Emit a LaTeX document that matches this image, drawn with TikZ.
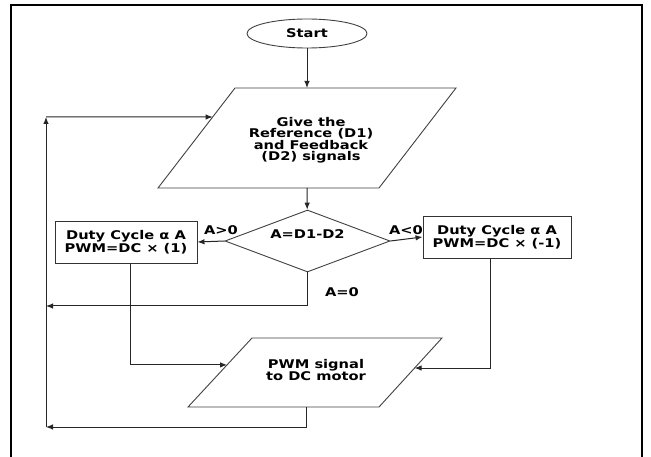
\documentclass[tikz,border=0pt]{standalone}
\usepackage{fontspec}
\newfontfamily\flowfont[FakeStretch=1.22]{DejaVu Sans}
\usetikzlibrary{shapes.geometric,arrows.meta,calc}

\begin{document}
\begin{tikzpicture}[x=1pt, y=-1pt, >={Latex[length=7pt,width=5.5pt]},
    every node/.style={font=\flowfont\bfseries\fontsize{12}{11.5}\selectfont, align=center},
    line/.style={draw=black!85, line width=1pt},
    terminal/.style={ellipse, draw=black!75, line width=0.9pt, minimum width=120pt, minimum height=29pt, inner sep=0pt},
    process/.style={rectangle, draw=black!80, line width=0.9pt, minimum height=42pt, inner sep=0pt},
    decision/.style={diamond, draw=black!75, line width=0.9pt, minimum width=165pt, minimum height=62pt, inner sep=0pt, aspect=2.66},
    iobox/.style={draw=black!75, line width=0.9pt}]
    \useasboundingbox (0,0) rectangle (651,457);
    % 外框
    \draw[line width=2pt] (11,457) -- (11,5) -- (642,5) -- (642,457);

    % 开始
    \node[terminal] (start) at (307,33.5) {Start};

    % 输入：参考与反馈信号
    \coordinate (g1tl) at (235,88);
    \coordinate (g1tr) at (456,88);
    \coordinate (g1br) at (379,188);
    \coordinate (g1bl) at (158,188);
    \draw[iobox] (g1tl) -- (g1tr) -- (g1br) -- (g1bl) -- cycle;
    \node (give) at (311,140) {Give the\\Reference (D1)\\and Feedback\\(D2) signals};

    % 判断
    \node[decision, text depth=14pt] (cmp) at (307.5,241) {A=D1-D2};

    % 两个占空比处理框
    \node[process, minimum width=142pt] (dcl) at (126,242) {Duty Cycle α A\\PWM=DC × (1)};
    \node[process, minimum width=148pt] (dcr) at (497,237) {Duty Cycle α A\\PWM=DC × (-1)};

    % 输出：PWM 信号
    \coordinate (g2tl) at (252,338);
    \coordinate (g2tr) at (442,338);
    \coordinate (g2br) at (379,407);
    \coordinate (g2bl) at (188,407);
    \draw[iobox] (g2tl) -- (g2tr) -- (g2br) -- (g2bl) -- cycle;
    \node (pwm) at (316,370) {PWM signal\\to DC motor};

    % 连线用的点
    \coordinate (givetop) at (307,88);
    \coordinate (givebot) at (307,188);
    \coordinate (givein) at ($(g1tl)!0.29!(g1bl)$);
    \coordinate (looptop) at (46,117);
    \coordinate (loopmid) at (46,306);
    \coordinate (loopbot) at (46,427);
    \coordinate (pwmin1) at ($(g2tl)!0.39!(g2bl)$);
    \coordinate (pwmin2) at ($(g2tr)!0.435!(g2br)$);
    \coordinate (pwmbot) at (306,407);

    % 主流程
    \draw[line,->] (start) -- (givetop);
    \draw[line,->] (givebot) -- (cmp);
    \draw[line,->] (cmp.west) -- (dcl.east);
    \draw[line,->] (cmp.east) -- (dcr.west);
    \draw[line,->] (cmp.south) |- (loopmid);
    \draw[line,->] ([xshift=4pt]dcl.south) |- (pwmin1);
    \draw[line,->] ([xshift=-7pt]dcr.south) |- (pwmin2);
    \draw[line,->] (pwmbot) |- (loopbot);

    % 回路
    \draw[line,->] (loopbot) -- (looptop);
    \draw[line,->] (looptop) -- (givein);

    % 分支标注
    \node (gt) at (221,230) {A>0};
    \node (lt) at (406,230) {A<0};
    \node (eq) at (342,292) {A=0};
\end{tikzpicture}
\end{document}
